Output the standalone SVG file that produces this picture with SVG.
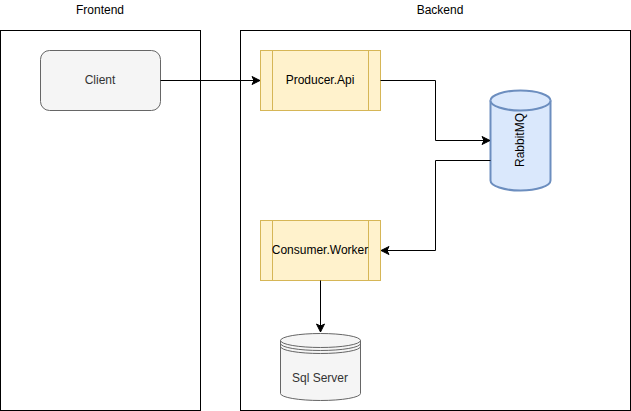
<svg xmlns="http://www.w3.org/2000/svg" width="631" height="411" viewBox="0 0 631 411">
<style>
text{font-family:"Liberation Sans",Arial,sans-serif;font-size:12px;text-anchor:middle;dominant-baseline:central}
.frame{fill:#ffffff;stroke:#000000;stroke-width:1}
.gray{fill:#f5f5f5;stroke:#666666;stroke-width:1}
.yellow{fill:#fff2cc;stroke:#d6b656;stroke-width:1}
.blue{fill:#dae8fc;stroke:#6c8ebf;stroke-width:2}
.edge{fill:none;stroke:#000000;stroke-width:1}
.dark{fill:#333333}
</style>
<defs>
<marker id="arr" markerUnits="userSpaceOnUse" markerWidth="10" markerHeight="10" viewBox="0 0 10 10" refX="9" refY="5" orient="auto">
<path d="M9,5 L1,1 L3,5 L1,9 Z" fill="#000000" stroke="#000000" stroke-width="1"/>
</marker>
</defs>
<g id="frontend">
<rect class="frame" x="0.5" y="30.5" width="200" height="380"/>
<text x="100" y="10">Frontend</text>
</g>
<g id="backend">
<rect class="frame" x="240.5" y="30.5" width="390" height="380"/>
<text x="440" y="10">Backend</text>
</g>
<g id="client">
<rect class="gray" x="40.5" y="50.5" width="120" height="60" rx="9" ry="9"/>
<text class="dark" x="100" y="80">Client</text>
</g>
<g id="producer">
<rect class="yellow" x="260.5" y="50.5" width="120" height="60"/>
<path class="yellow" d="M272.5,50.5 V110.5 M368.5,50.5 V110.5"/>
<text x="320" y="80">Producer.Api</text>
</g>
<g id="rabbitmq">
<path class="blue" d="M490.5,100.5 A30,10 0 0 1 550.5,100.5 V180.5 A30,10 0 0 1 490.5,180.5 Z"/>
<path class="blue" d="M490.5,100.5 A30,10 0 0 0 550.5,100.5" fill="none"/>
<text transform="translate(520,140) rotate(-90)" x="0" y="0">RabbitMQ</text>
</g>
<g id="consumer">
<rect class="yellow" x="260.5" y="220.5" width="120" height="60"/>
<path class="yellow" d="M272.5,220.5 V280.5 M368.5,220.5 V280.5"/>
<text x="320" y="250">Consumer.Worker</text>
</g>
<g id="sqlserver">
<path class="gray" d="M280.5,340.5 A40,7 0 0 1 360.5,340.5 V393.5 A40,7 0 0 1 280.5,393.5 Z"/>
<path d="M280.5,340.5 A40,7 0 0 0 360.5,340.5 M280.5,343.5 A40,7 0 0 0 360.5,343.5 M280.5,346.5 A40,7 0 0 0 360.5,346.5" fill="none" stroke="#666666" stroke-width="1"/>
<text class="dark" x="320" y="378">Sql Server</text>
</g>
<g id="connectors">
<path class="edge" d="M160.5,80.5 H260" marker-end="url(#arr)"/>
<path class="edge" d="M380.5,80.5 H435.5 V140.5 H490" marker-end="url(#arr)"/>
<path class="edge" d="M490.5,160.5 H435.5 V250.5 H381" marker-end="url(#arr)"/>
<path class="edge" d="M320.5,280.5 V332" marker-end="url(#arr)"/>
</g>
</svg>
